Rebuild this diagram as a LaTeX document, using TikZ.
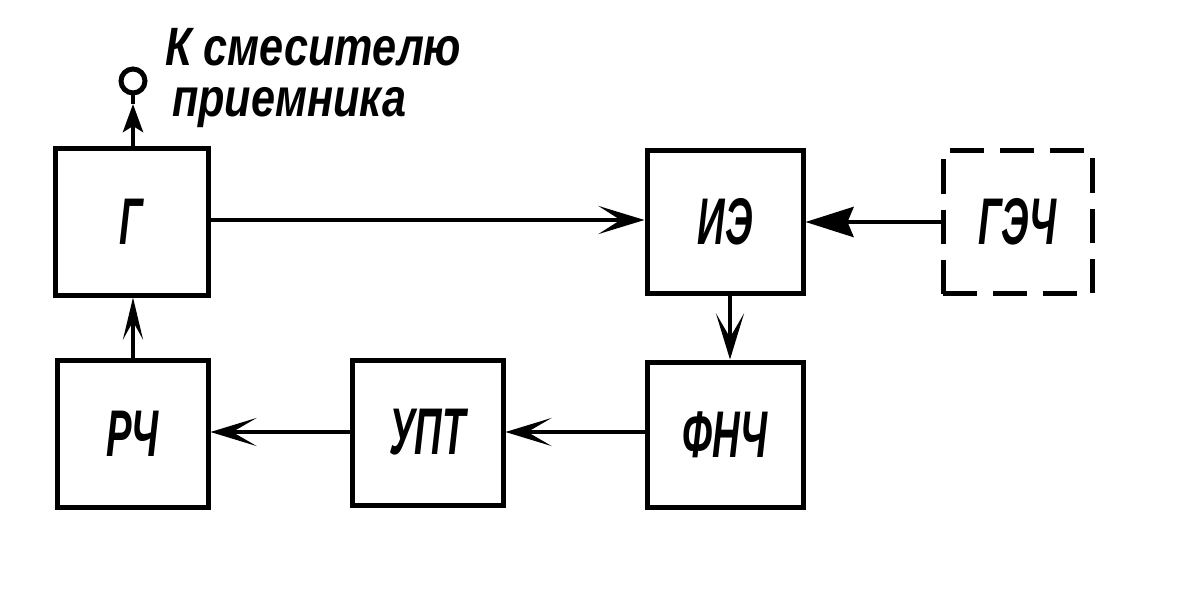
\documentclass[tikz,border=0pt]{standalone}
\usepackage{fontspec}
\setmainfont{Liberation Sans}
\usetikzlibrary{arrows.meta}
\begin{document}
\begin{tikzpicture}[x=1pt,y=-1pt,
  blk/.style={draw,line width=5pt,rectangle,inner sep=0pt,minimum width=153pt,minimum height=146pt,
    font=\fontsize{66}{66}\selectfont\bfseries\itshape},
  dblk/.style={blk,dash pattern=on 34pt off 16pt},
  conn/.style={line width=4.5pt},
  barb/.style={-{Stealth[length=46pt,width=28pt,inset=24pt]}},
  fullarr/.style={-{Stealth[length=48pt,width=30pt,inset=6pt]}},
  lab/.style={font=\fontsize{54}{54}\selectfont\bfseries\itshape,anchor=base west,inner sep=0pt}
]
\useasboundingbox (0,0) rectangle (1181,591);
\node[blk] (G) at (131.5,222) {\scalebox{0.58}[1]{Г}};
\node[blk,minimum width=156pt,minimum height=143pt] (IE) at (725,222) {\scalebox{0.58}[1]{ИЭ}};
\node[dblk,minimum width=149pt,minimum height=143pt] (GEC) at (1017.5,222) {\scalebox{0.58}[1]{ГЭЧ}};
\node[blk,minimum width=151pt,minimum height=147pt] (RC) at (132.5,433.5) {\scalebox{0.58}[1]{РЧ}};
\node[blk,minimum width=151pt,minimum height=145pt] (UPT) at (427.5,432.5) {\scalebox{0.58}[1]{УПТ}};
\node[blk,minimum width=156pt,minimum height=145pt] (FNC) at (725,434.5) {\scalebox{0.58}[1]{ФНЧ}};
\node[draw,circle,line width=5pt,minimum size=24pt,inner sep=0pt] (term) at (133,81) {};
\node[lab] (t1) at (165,66) {\scalebox{0.8}[1]{К смесителю}};
\node[lab] (t2) at (172,117) {\scalebox{0.8}[1]{приемника}};
\coordinate (tip) at (133,104);
\draw[conn,-{Stealth[length=28pt,width=20pt,inset=6pt]}] (G.north -| term) -- (tip);
\draw[conn] (tip) -- (term.south);
\draw[conn,-{Stealth[length=46pt,width=28pt,inset=22pt]}] (G.east |- 0,220) -- (IE.west |- 0,220);
\draw[conn,fullarr] (GEC.west) -- (IE.east);
\draw[conn,barb] (IE.south -| 730,0) -- (FNC.north -| 730,0);
\draw[conn,barb] (FNC.west |- 0,432) -- (UPT.east |- 0,432);
\draw[conn,barb] (UPT.west |- 0,432) -- (RC.east |- 0,432);
\draw[conn,-{Stealth[length=42pt,width=20pt,inset=18pt]}] (RC.north -| 133,0) -- (G.south -| 133,0);
\end{tikzpicture}
\end{document}
